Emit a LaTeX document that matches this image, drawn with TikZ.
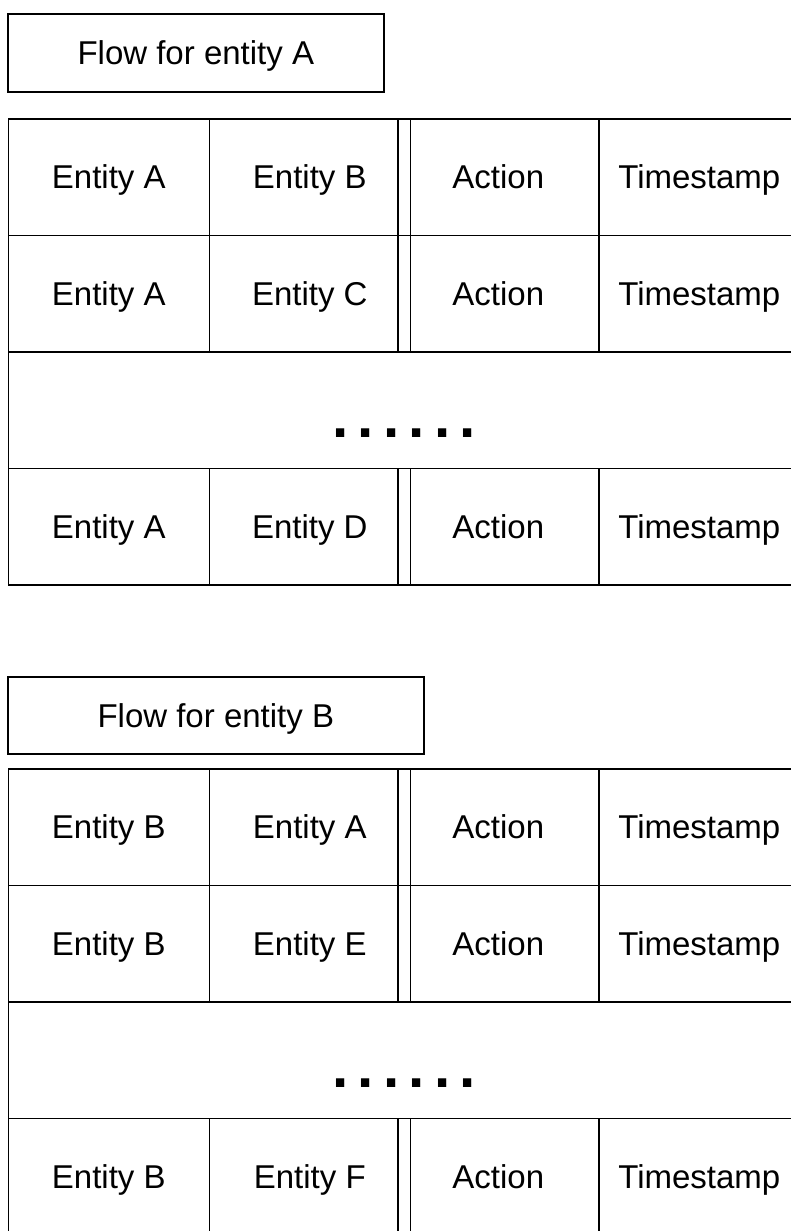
\documentclass[tikz,border=0pt]{standalone}
\usepackage{fontspec}
\setmainfont{Liberation Sans}
\usetikzlibrary{positioning}
\tikzset{
  cell/.style={draw, line width=1.2pt, anchor=north west, inner sep=0pt,
    minimum width=150.75pt, minimum height=87.4pt,
    text height=17.7pt, text depth=0pt,
    font=\fontsize{24.75}{30}\selectfont},
  title/.style={cell, minimum height=58.5pt},
  gaprow/.style={cell, minimum width=593.6pt, text height=41.5pt, text depth=0pt,
    font=\fontsize{43.8}{50}\bfseries},
}
\newcommand{\dotrun}{.\hspace{7pt}.\hspace{7pt}.\hspace{7pt}.\hspace{7pt}.\hspace{7pt}.}

\begin{document}
\begin{tikzpicture}[x=0.75pt, y=-0.75pt]
  \useasboundingbox (0,0) rectangle (790,1231);
  % flow for entity A
  \node[title, minimum width=282pt] (ta) at (7,13) {Flow for entity A};
  \foreach \r/\y/\other in {1/118/B, 2/234.5/C, 4/467.5/D} {
    \node[cell] (a\r1) at (7.5,\y) {Entity A};
    \node[cell] (a\r2) at (208.5,\y) {Entity \other};
    \node[cell] (a\r3) at (397,\y) {Action};
    \node[cell] (a\r4) at (598,\y) {Timestamp};
  }
  \node[gaprow] (a3) at (7.5,351) {\dotrun};
  % flow for entity B
  \node[title, minimum width=312pt, minimum height=57.75pt] (tb) at (7,676) {Flow for entity B};
  \foreach \r/\y/\other in {1/768/A, 2/884.5/E, 4/1117.5/F} {
    \node[cell] (b\r1) at (7.5,\y) {Entity B};
    \node[cell] (b\r2) at (208.5,\y) {Entity \other};
    \node[cell] (b\r3) at (397,\y) {Action};
    \node[cell] (b\r4) at (598,\y) {Timestamp};
  }
  \node[gaprow] (b3) at (7.5,1001) {\dotrun};
\end{tikzpicture}
\end{document}
